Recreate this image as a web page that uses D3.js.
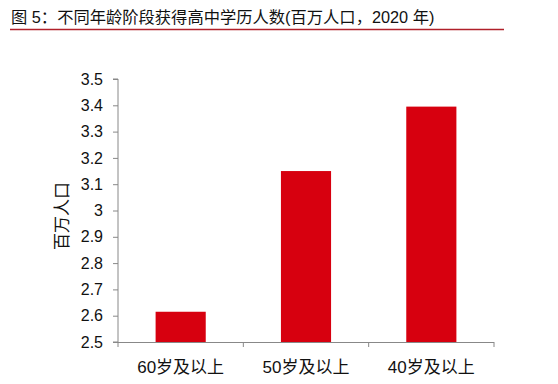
<!DOCTYPE html>
<html><head><meta charset="utf-8">
<script src="https://cdn.jsdelivr.net/npm/d3@7"></script>
<style>
body{margin:0;background:#fff;}
text{font-family:"Liberation Sans","Noto Sans CJK SC",sans-serif;}
</style></head>
<body><svg id="c" width="558" height="384"></svg>
<script>
const categories = ["60岁及以上","50岁及以上","40岁及以上"];
const values = [2.615, 3.15, 3.395];
const yTicks = [2.5,2.6,2.7,2.8,2.9,3.0,3.1,3.2,3.3,3.4,3.5];
const title = "图 5：不同年龄阶段获得高中学历人数(百万人口，2020 年)";
const yTitle = "百万人口";

(function(){
const svg = d3.select("#c");
svg.append("text").attr("x",11).attr("y",23).attr("font-size",16.3).attr("fill","#111").text(title);
svg.append("line").attr("x1",10).attr("x2",504).attr("y1",29.5).attr("y2",29.5).attr("stroke","#b0202a").attr("stroke-width",1.5);

const pL=118, pR=494, pT=79, pB=342;
const x = d3.scaleBand().domain(categories).range([pL,pR]).paddingInner(0.6).paddingOuter(0.3);
const y = d3.scaleLinear().domain([2.5,3.5]).range([pB,pT]);

svg.selectAll("rect.bar").data(values).enter().append("rect")
  .attr("x",(d,i)=>x(categories[i])).attr("width",x.bandwidth())
  .attr("y",d=>y(d)).attr("height",d=>pB-y(d)).attr("fill","#d7000f");

const ya = svg.append("g").attr("transform",`translate(${pL},0)`)
  .call(d3.axisLeft(y).tickValues(yTicks).tickSize(5).tickPadding(10).tickFormat(d=>String(+d.toFixed(1))));
ya.selectAll("text").attr("font-size",16).attr("fill","#111");
ya.selectAll("line,path").attr("stroke","#888");
ya.select("path").attr("d",`M-5,${pT}H0V${pB}H-5`);

const step = (pR-pL)/categories.length;
const xa = svg.append("g");
xa.append("line").attr("x1",pL).attr("x2",pR).attr("y1",pB+0.5).attr("y2",pB+0.5).attr("stroke","#888");
d3.range(categories.length+1).forEach(i=>{
  xa.append("line").attr("x1",pL+i*step).attr("x2",pL+i*step).attr("y1",pB).attr("y2",pB+5).attr("stroke","#888");
});
xa.selectAll("text.cat").data(categories).enter().append("text")
  .attr("x",d=>x(d)+x.bandwidth()/2).attr("y",373).attr("text-anchor","middle")
  .attr("font-size",17).attr("fill","#111").text(d=>d);

svg.append("text").attr("transform",`translate(68,216) rotate(-90)`).attr("text-anchor","middle")
  .attr("font-size",17).attr("fill","#111").text(yTitle);
})();
</script></body></html>
